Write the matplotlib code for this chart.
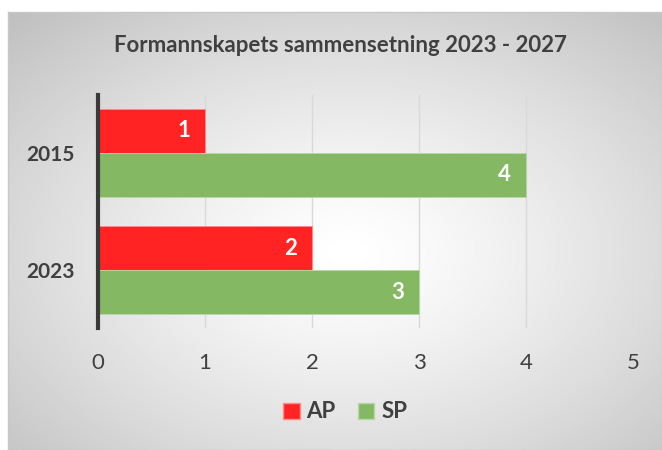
import matplotlib
matplotlib.use("Agg")
import matplotlib.pyplot as plt
import numpy as np
from matplotlib.patches import Patch

years = ["2015", "2023"]
ap_seats = [1, 2]
sp_seats = [4, 3]
x_ticks = [0, 1, 2, 3, 4, 5]
title = "Formannskapets sammensetning 2023 - 2027"

RED = "#ff2323"
GREEN = "#84b862"
TEXT = "#404040"

plt.rcParams["font.family"] = ["Lato", "DejaVu Sans"]

W, H = 662, 450
fig = plt.figure(figsize=(W / 100, H / 100), dpi=100)
fig.patch.set_facecolor("white")

# radial gradient background with thin grey frame
bg = fig.add_axes([8 / W, 0, (W - 8) / W, (H - 12) / H])
yy, xx = np.mgrid[0:1:300j, 0:1:450j]
r = np.sqrt(((xx - 0.52) / 0.75) ** 2 + ((yy - 0.55) / 0.75) ** 2)
shade = 1 - 0.25 * np.clip(r, 0, 1.2) ** 1.3
bg.imshow(shade, cmap="gray", vmin=0, vmax=1, aspect="auto", extent=[0, 1, 0, 1])
bg.set_xticks([])
bg.set_yticks([])
for s in bg.spines.values():
    s.set_color("#c8c8c8")
    s.set_linewidth(1)

ax = fig.add_axes([98 / W, (H - 328) / H, (633 - 98) / W, (328 - 95) / H])
ax.patch.set_alpha(0)

pos = np.arange(len(years))
h = 0.375
ax.barh(pos - h / 2, ap_seats, height=h, color=RED, edgecolor="#ff8a8a", linewidth=0.6, zorder=3)
ax.barh(pos + h / 2, sp_seats, height=h, color=GREEN, edgecolor="#b8d8a8", linewidth=0.6, zorder=3)

for i in pos:
    ax.text(ap_seats[i] - 0.14, i - h / 2, str(ap_seats[i]), color="white", fontsize=16,
            fontweight="bold", ha="right", va="center", zorder=4)
    ax.text(sp_seats[i] - 0.14, i + h / 2, str(sp_seats[i]), color="white", fontsize=16,
            fontweight="bold", ha="right", va="center", zorder=4)

ax.set_xlim(0, 5)
ax.set_ylim(1 + 0.49, -0.49)
ax.set_xticks(x_ticks)
ax.set_xticklabels([str(t) for t in x_ticks], fontsize=16, color=TEXT)
ax.set_yticks(pos)
ax.set_yticklabels(years, fontsize=15, fontweight="bold", color=TEXT)
ax.tick_params(axis="x", length=0, pad=18)
ax.tick_params(axis="y", length=0, pad=17)
ax.xaxis.grid(True, color="#d9d9d9", linewidth=1, zorder=0)
ax.set_axisbelow(True)
for name in ["top", "right", "bottom"]:
    ax.spines[name].set_visible(False)
ax.spines["left"].set_color("#3a3a3a")
ax.spines["left"].set_linewidth(3)
ax.spines["left"].set_zorder(5)

fig.text(340 / W, 1 - 46 / H, title, ha="center", va="center", fontsize=16,
         fontweight="bold", color=TEXT)

handles = [Patch(facecolor=RED, edgecolor="#ff8a8a", label="AP"),
           Patch(facecolor=GREEN, edgecolor="#b8d8a8", label="SP")]
leg = fig.legend(handles=handles, loc="center", bbox_to_anchor=(345 / W, 1 - 412 / H), ncol=2,
                 frameon=False, handlelength=0.75, handleheight=0.75, handletextpad=0.3,
                 columnspacing=1.0, prop={"size": 16, "weight": "bold"})
for t in leg.get_texts():
    t.set_color(TEXT)

fig.savefig("out.png", dpi=100)
